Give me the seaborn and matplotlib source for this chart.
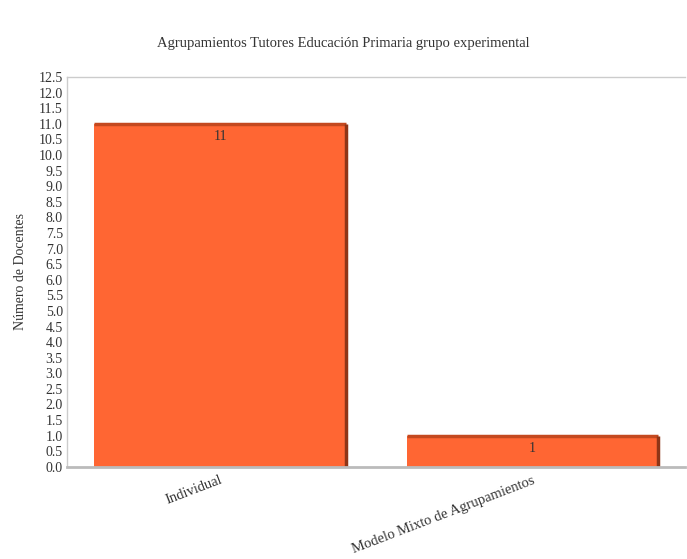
import numpy as np
import pandas as pd
import matplotlib
matplotlib.use("Agg")
import matplotlib.pyplot as plt
import seaborn as sns

# data
categories = ["Individual", "Modelo Mixto de Agrupamientos"]
docentes = [11, 1]
y_ticks = np.arange(0, 12.51, 0.5)

df = pd.DataFrame({"agrupamiento": categories, "docentes": docentes})

sns.set_style("white")
plt.rcParams["font.family"] = ["Liberation Serif", "DejaVu Serif"]

fig = plt.figure(figsize=(6.87, 5.59), dpi=100)
ax = fig.add_axes([0.0975, 0.165, 0.9, 0.697])

sns.barplot(data=df, x="agrupamiento", y="docentes", color="#FF6633",
            saturation=1, width=0.805, edgecolor="none", ax=ax)

# fake the little 3D look: darker top and right edge on each bar
for p in ax.patches:
    x0, w, h = p.get_x(), p.get_width(), p.get_height()
    ax.plot([x0, x0 + w], [h, h], color="#C4491F", lw=2.5, solid_capstyle="butt")
    ax.plot([x0 + w, x0 + w], [0, h], color="#8E3517", lw=2.5, solid_capstyle="butt")

# value labels just inside the top of each bar
for i, v in enumerate(docentes):
    ax.text(i, v - 0.2, str(v), ha="center", va="top", fontsize=10, color="#333333")

ax.set_xlim(-0.49, 1.49)
ax.set_ylim(0, 12.5)
ax.set_yticks(y_ticks)
ax.set_yticklabels([f"{t:.1f}" for t in y_ticks], fontsize=10, color="#333333")
ax.tick_params(axis="y", length=0, pad=3)
ax.tick_params(axis="x", length=0, pad=5)
ax.set_xticks(range(len(categories)))
ax.set_xticklabels(categories, rotation=21, ha="right", rotation_mode="anchor",
                   fontsize=10.5, color="#333333")

for side in ["left", "top"]:
    ax.spines[side].set_color("#CCCCCC")
    ax.spines[side].set_linewidth(1)
ax.spines["right"].set_visible(False)
ax.spines["bottom"].set_color("#BBBBBB")
ax.spines["bottom"].set_linewidth(2)

ax.set_xlabel("")
ax.set_ylabel("Número de Docentes", fontsize=10, color="#333333", labelpad=8)
fig.text(0.5, 0.922, "Agrupamientos Tutores Educación Primaria grupo experimental",
         ha="center", va="center", fontsize=10.5, color="#333333")

fig.savefig("out.png", dpi=100)
